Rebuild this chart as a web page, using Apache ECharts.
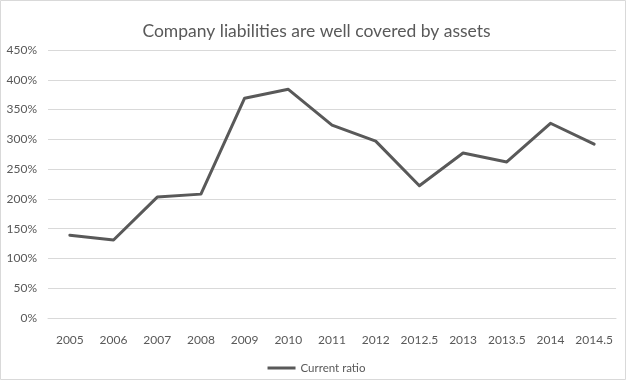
<!DOCTYPE html>
<html>
<head>
<meta charset="utf-8">
<script src="https://cdn.jsdelivr.net/npm/echarts@6/dist/echarts.min.js"></script>
<style>
html,body{margin:0;padding:0;background:#fff;}
#chart{width:633px;height:382px;}
</style>
</head>
<body>
<div id="chart"></div>
<script>
const titleText = 'Company liabilities are well covered by assets';
const seriesName = 'Current ratio';
const categories = ['2005','2006','2007','2008','2009','2010','2011','2012','2012.5','2013','2013.5','2014','2014.5'];
const currentRatio = [139, 131, 203, 208, 369, 384, 324, 297, 222, 277, 262, 327, 292];
const yTicks = {min: 0, max: 450, interval: 50};

const FONT = 'Lato';
const chart = echarts.init(document.getElementById('chart'), null, {renderer: 'canvas'});
chart.setOption({
  backgroundColor: '#ffffff',
  animation: false,
  title: {
    text: titleText,
    left: 'center',
    top: 17,
    textStyle: {fontFamily: FONT, fontSize: 17.5, fontWeight: 'normal', color: '#595959'}
  },
  grid: {left: 48, right: 17, top: 50, bottom: 64},
  legend: {
    bottom: 3,
    left: 'center',
    itemWidth: 28,
    itemHeight: 3,
    itemGap: 10,
    textStyle: {fontFamily: FONT, fontSize: 11.5, color: '#595959'},
    data: [{name: seriesName, icon: 'rect'}]
  },
  xAxis: {
    type: 'category',
    data: categories,
    boundaryGap: true,
    axisLine: {show: true, lineStyle: {color: '#d9d9d9', width: 1}},
    axisTick: {show: false},
    axisLabel: {fontFamily: FONT, fontSize: 12, color: '#595959', margin: 16, interval: 0}
  },
  yAxis: {
    type: 'value',
    min: yTicks.min,
    max: yTicks.max,
    interval: yTicks.interval,
    axisLine: {show: false},
    axisTick: {show: false},
    splitLine: {lineStyle: {color: '#d9d9d9', width: 1}},
    axisLabel: {fontFamily: FONT, fontSize: 12, color: '#595959', margin: 11, formatter: '{value}%'}
  },
  series: [{
    name: seriesName,
    type: 'line',
    data: currentRatio,
    symbol: 'none',
    lineStyle: {color: '#595959', width: 3, cap: 'round', join: 'round'},
    itemStyle: {color: '#595959'}
  }],
  graphic: [{
    type: 'rect',
    shape: {x: 0.5, y: 0.5, width: 625, height: 379},
    style: {fill: 'none', stroke: '#d9d9d9', lineWidth: 1},
    silent: true
  }]
});
</script>
</body>
</html>
